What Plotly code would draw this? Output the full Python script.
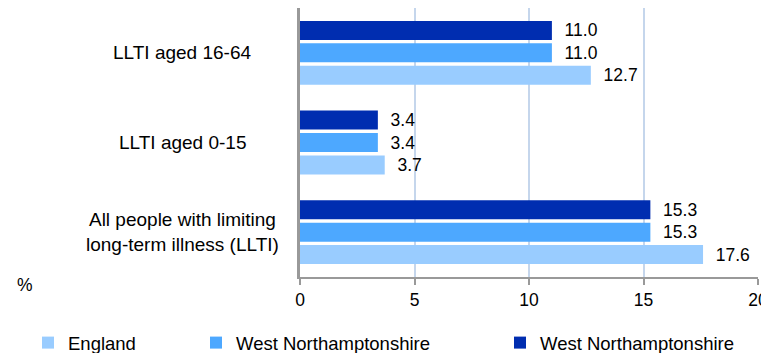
import plotly.graph_objects as go

categories = ["All people with limiting long-term illness (LLTI)", "LLTI aged 0-15", "LLTI aged 16-64"]
cat_labels = ["All people with limiting<br>long-term illness (LLTI)", "LLTI aged 0-15", "LLTI aged 16-64"]
england = [17.6, 3.7, 12.7]
west_north_a = [15.3, 3.4, 11.0]
west_north_b = [15.3, 3.4, 11.0]
series_names = ["England", "West Northamptonshire", "West Northamptonshire"]
colors = ["#99ccff", "#4da8ff", "#002db0"]
x_ticks = [0, 5, 10, 15, 20]

# the page body adds an 8px margin, so the figure is made 8px smaller
W, H = 761, 345
L, R, T, B = 292, 11, 0, 76
pw = W - L - R
ph = H - T - B
FONT = "Liberation Sans, Arial, sans-serif"

fig = go.Figure()
legends = ["legend", "legend2", "legend3"]
for vals, name, col, lg in zip([england, west_north_a, west_north_b], series_names, colors, legends):
    fig.add_trace(go.Bar(
        y=categories, x=vals, orientation="h", name=name,
        marker=dict(color=col, line=dict(width=0)),
        text=["\u00a0\u00a0" + f"{v:.1f}" for v in vals], textposition="outside",
        constraintext="none",
        textfont=dict(size=17.5, color="#000000"), cliponaxis=False,
        legend=lg,
    ))

# category labels, centred like the original
for cat, lab in zip(categories, cat_labels):
    fig.add_annotation(x=(174 - L) / pw, xref="paper", y=cat, yref="y",
                       text=lab, showarrow=False, xanchor="center", align="center",
                       font=dict(size=19, color="#000000"))

fig.add_annotation(x=(17 - L) / pw, xref="paper", y=(ph - 277) / ph, yref="paper", text="%",
                   showarrow=False, xanchor="center", yanchor="middle",
                   font=dict(size=17.5, color="#000000"))

leg_px = [20, 188, 492]
leg_font = dict(family=FONT, size=18.5, color="#000000")
layout_legends = {}
for lg, px in zip(legends, leg_px):
    layout_legends[lg] = dict(x=(px - L) / pw, xanchor="left", y=-0.175, yanchor="top",
                              orientation="h", font=leg_font, bgcolor="rgba(0,0,0,0)",
                              itemwidth=30)

fig.update_layout(
    width=W, height=H,
    margin=dict(l=L, r=R, t=T, b=B, autoexpand=False),
    barmode="group", bargap=0.25, bargroupgap=0.15,
    plot_bgcolor="#ffffff", paper_bgcolor="#ffffff",
    font=dict(family=FONT, size=17, color="#000000"),
    showlegend=True,
    **layout_legends,
)
fig.update_xaxes(range=[0, 20], tickvals=x_ticks, showgrid=True, gridcolor="#c5d6ec", gridwidth=2,
                 showline=True, linecolor="#999999", linewidth=2, ticks="outside",
                 tickcolor="#999999", ticklen=6, tickwidth=2, zeroline=False,
                 ticklabeloverflow="allow",
                 tickfont=dict(size=17.5, color="#000000"))
fig.update_yaxes(showticklabels=False, showline=True, linecolor="#999999", linewidth=3,
                 showgrid=False, zeroline=False, categoryorder="array", categoryarray=categories)

fig.write_html("out.html")
